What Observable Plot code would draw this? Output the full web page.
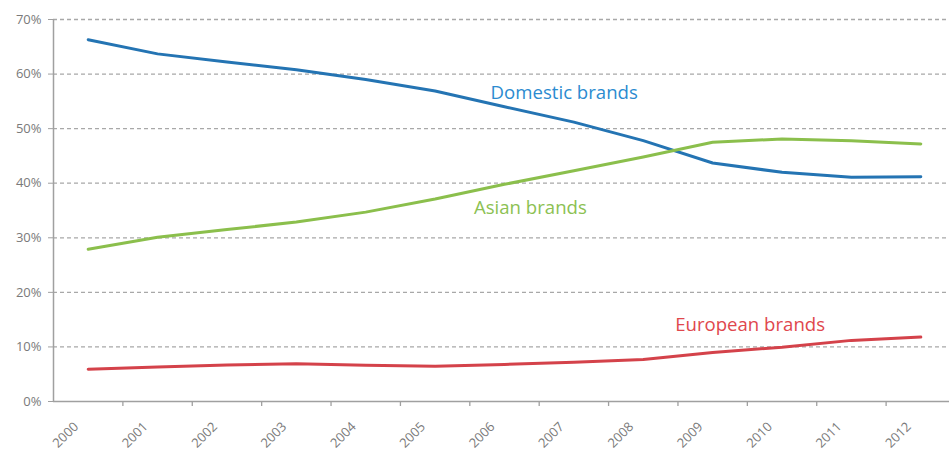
<!DOCTYPE html>
<html>
<head>
<meta charset="utf-8">
<script src="https://cdn.jsdelivr.net/npm/d3@7"></script>
<script src="https://cdn.jsdelivr.net/npm/@observablehq/plot@0.6"></script>
<style>
  html, body { margin: 0; padding: 0; background: #fff; }
  #chart { width: 949px; height: 452px; overflow: hidden; }
  svg { overflow: visible; }
</style>
</head>
<body>
<div id="chart"></div>
<script>
const years = [2000, 2001, 2002, 2003, 2004, 2005, 2006, 2007, 2008, 2009, 2010, 2011, 2012];
const domestic = [66.3, 63.7, 62.2, 60.8, 59.0, 56.9, 54.0, 51.2, 47.8, 43.7, 42.0, 41.1, 41.2];
const asian    = [27.9, 30.1, 31.5, 32.9, 34.7, 37.1, 39.8, 42.3, 44.8, 47.5, 48.1, 47.8, 47.2];
const european = [5.9, 6.3, 6.7, 6.9, 6.65, 6.45, 6.8, 7.2, 7.7, 9.0, 9.95, 11.2, 11.8];
const seriesNames = ["Domestic brands", "Asian brands", "European brands"];
const yTicks = [0, 10, 20, 30, 40, 50, 60, 70];
const gridValues = [10, 20, 30, 40, 50, 60, 70];
const boundaryTicks = [2000.5, 2001.5, 2002.5, 2003.5, 2004.5, 2005.5, 2006.5, 2007.5, 2008.5, 2009.5, 2010.5, 2011.5];
// label anchors in data units (year, share)
const labelNames = ["Domestic brands", "Asian brands", "European brands"];
const labelYears = [2005.8, 2005.56, 2008.46];
const labelValues = [55.5, 34.3, 13.0];

const lineColors = ["#2474b3", "#8bbf4c", "#d4424a"];
const textColors = ["#2b8bd0", "#8cc152", "#e0474d"];

const table = [];
[domestic, asian, european].forEach((arr, i) => {
  arr.forEach((v, j) => table.push({ year: years[j], value: v, series: seriesNames[i] }));
});
const labels = labelNames.map((n, i) => ({ name: n, year: labelYears[i], value: labelValues[i], color: textColors[i] }));

const chart = Plot.plot({
  width: 949,
  height: 452,
  marginTop: 19,
  marginBottom: 51,
  marginLeft: 53,
  marginRight: 0,
  style: { fontFamily: "'Open Sans', sans-serif", background: "#fff", overflow: "visible" },
  x: { type: "linear", domain: [1999.5, 2012.5], range: [53, 955], axis: null, label: null },
  y: { type: "linear", domain: [0, 70], axis: null, label: null },
  color: { domain: seriesNames, range: lineColors },
  marks: [
    Plot.ruleY(gridValues, { x1: 1999.5, x2: 2012.5, stroke: "#a8a8a8", strokeWidth: 1.3, strokeDasharray: "4,3" }),
    Plot.ruleY([0], { x1: 1999.5, x2: 2012.5, stroke: "#a0a0a0", strokeWidth: 1.5 }),
    Plot.ruleX([1999.5], { y1: 0, y2: 70, stroke: "#a0a0a0", strokeWidth: 1.5 }),
    Plot.axisY({ ticks: yTicks, tickSize: 5, tickPadding: 7, tickFormat: d => d + "%", stroke: "#a0a0a0", fill: "#7a7a7a", fontSize: 13, label: null }),
    Plot.axisX({ ticks: boundaryTicks, tickSize: 5, tickFormat: () => "", stroke: "#a0a0a0", strokeWidth: 1.3, label: null }),
    Plot.axisX({ ticks: years, tickSize: 0, tickPadding: 0, tickRotate: -45, tickFormat: d => String(d), fill: "#7a7a7a", fontSize: 13, dx: -12, dy: 23, label: null }),
    Plot.line(table, { x: "year", y: "value", z: "series", stroke: "series", strokeWidth: 3, curve: "linear" }),
    Plot.text(labels, { x: "year", y: "value", text: "name", fill: "color", textAnchor: "start", lineAnchor: "bottom", fontSize: 18.6 })
  ]
});
document.getElementById("chart").appendChild(chart);
</script>
</body>
</html>
